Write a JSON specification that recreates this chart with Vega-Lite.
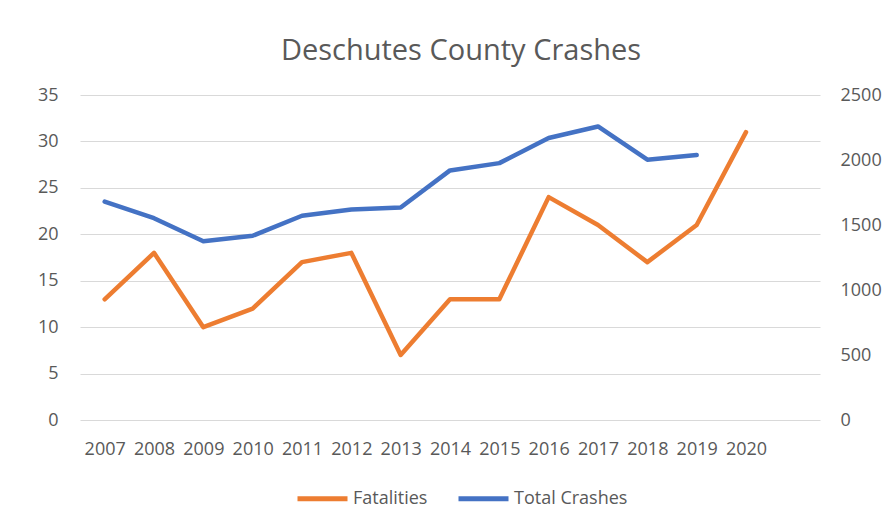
{
  "$schema": "https://vega.github.io/schema/vega-lite/v6.json",
  "width": 740,
  "height": 325,
  "autosize": {"type": "none"},
  "padding": {"left": 80, "top": 95, "right": 71, "bottom": 110},
  "background": "white",
  "title": {
    "text": "Deschutes County Crashes",
    "font": "Open Sans",
    "fontSize": 29,
    "fontWeight": "normal",
    "color": "#595959",
    "anchor": "middle",
    "frame": "group",
    "baseline": "alphabetic",
    "offset": 37,
    "dx": 11,
    "dy": 40
  },
  "config": {
    "view": {"stroke": null},
    "font": "Open Sans",
    "axis": {"labelFont": "Open Sans", "labelColor": "#595959", "labelFontSize": 18, "ticks": false, "domain": false, "title": null},
    "legend": {"labelFont": "Open Sans", "labelColor": "#595959", "labelFontSize": 18}
  },
  "data": {
    "values": [
      {"year": "2007", "Fatalities": 13, "TotalCrashes": 1680},
      {"year": "2008", "Fatalities": 18, "TotalCrashes": 1552},
      {"year": "2009", "Fatalities": 10, "TotalCrashes": 1375},
      {"year": "2010", "Fatalities": 12, "TotalCrashes": 1417},
      {"year": "2011", "Fatalities": 17, "TotalCrashes": 1571},
      {"year": "2012", "Fatalities": 18, "TotalCrashes": 1620},
      {"year": "2013", "Fatalities": 7, "TotalCrashes": 1635},
      {"year": "2014", "Fatalities": 13, "TotalCrashes": 1920},
      {"year": "2015", "Fatalities": 13, "TotalCrashes": 1976},
      {"year": "2016", "Fatalities": 24, "TotalCrashes": 2169},
      {"year": "2017", "Fatalities": 21, "TotalCrashes": 2258},
      {"year": "2018", "Fatalities": 17, "TotalCrashes": 2002},
      {"year": "2019", "Fatalities": 21, "TotalCrashes": 2038},
      {"year": "2020", "Fatalities": 31, "TotalCrashes": null}
    ]
  },
  "encoding": {
    "x": {
      "field": "year",
      "type": "ordinal",
      "scale": {"type": "point", "padding": 0.5, "domain": ["2007","2008","2009","2010","2011","2012","2013","2014","2015","2016","2017","2018","2019","2020","2021"]},
      "axis": {"labelAngle": 0, "labelPadding": 20, "grid": false, "labelExpr": "datum.value == '2021' ? '' : datum.label"}
    }
  },
  "layer": [
    {
      "mark": {"type": "line", "strokeWidth": 4.5, "strokeCap": "round", "strokeJoin": "round"},
      "encoding": {
        "y": {
          "field": "Fatalities",
          "type": "quantitative",
          "scale": {"domain": [0, 35], "nice": false},
          "axis": {"orient": "left", "values": [0,5,10,15,20,25,30,35], "grid": true, "gridColor": "#d9d9d9", "gridWidth": 1.2, "labelPadding": 22}
        },
        "color": {
          "datum": "Fatalities",
          "type": "nominal",
          "scale": {"domain": ["Fatalities", "Total Crashes"], "range": ["#ED7D31", "#4472C4"]},
          "legend": {"title": null, "orient": "none", "legendX": 215, "legendY": 376, "direction": "horizontal", "symbolType": "stroke", "symbolSize": 2500, "symbolStrokeWidth": 5, "labelOffset": 3, "columnPadding": 20}
        }
      }
    },
    {
      "mark": {"type": "line", "strokeWidth": 4.5, "strokeCap": "round", "strokeJoin": "round"},
      "encoding": {
        "y": {
          "field": "TotalCrashes",
          "type": "quantitative",
          "scale": {"domain": [0, 2500], "nice": false},
          "axis": {"orient": "right", "values": [0,500,1000,1500,2000,2500], "format": "d", "grid": false, "labelPadding": 20}
        },
        "color": {"datum": "Total Crashes", "type": "nominal"}
      }
    }
  ],
  "resolve": {"scale": {"y": "independent"}}
}
